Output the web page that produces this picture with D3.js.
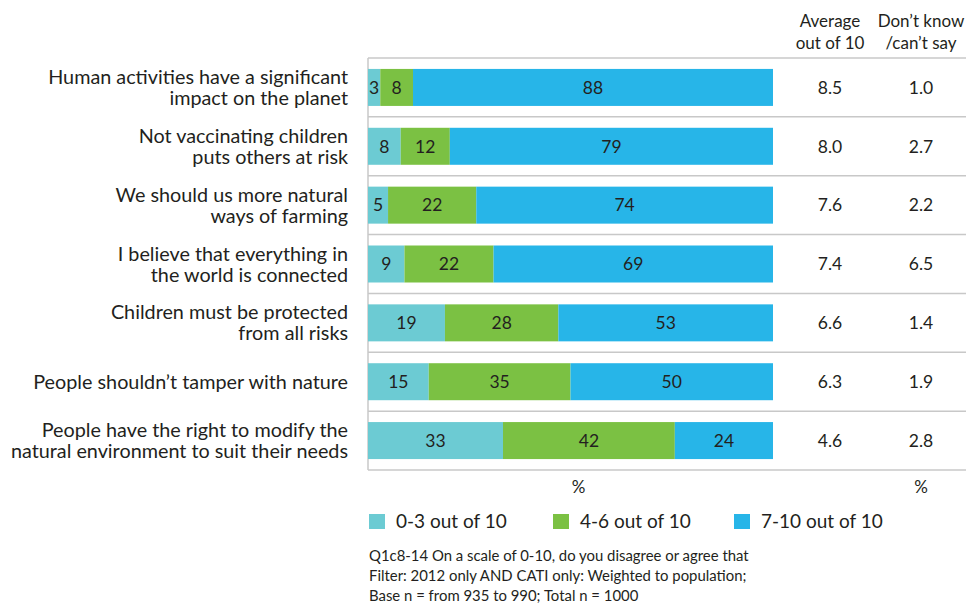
<!DOCTYPE html>
<html>
<head>
<meta charset="utf-8">
<script src="https://cdn.jsdelivr.net/npm/d3@7"></script>
<style>
  body { margin: 0; background: #fff; }
  svg text { font-family: Lato, "Noto Sans", sans-serif; fill: #231f20; }
</style>
</head>
<body>
<div id="chart"></div>
<script>
// statements, two lines each
var statements = [
	['Human activities have a significant', 'impact on the planet'],
	['Not vaccinating children', 'puts others at risk'],
	['We should us more natural', 'ways of farming'],
	['I believe that everything in', 'the world is connected'],
	['Children must be protected', 'from all risks'],
	['People shouldn\u2019t tamper with nature'],
	['People have the right to modify the', 'natural environment to suit their needs']
]
var low = [3, 8, 5, 9, 19, 15, 33]      // 0-3 out of 10
var mid = [8, 12, 22, 22, 28, 35, 42]   // 4-6 out of 10
var high = [88, 79, 74, 69, 53, 50, 24] // 7-10 out of 10
var average = ['8.5', '8.0', '7.6', '7.4', '6.6', '6.3', '4.6']
var dontKnow = ['1.0', '2.7', '2.2', '6.5', '1.4', '1.9', '2.8']
var seriesNames = ['0-3 out of 10', '4-6 out of 10', '7-10 out of 10']
var colors = ['#6ccbd3', '#7bc143', '#27b5e8']
var footnote = [
	'Q1c8-14 On a scale of 0-10, do you disagree or agree that',
	'Filter: 2012 only AND CATI only: Weighted to population;',
	'Base n = from 935 to 990; Total n = 1000'
]

var W = 966, H = 604
var svg = d3.select('#chart').append('svg')
	.attr('width', W)
	.attr('height', H)

var plotLeft = 368, barRight = 773
var plotTop = 58, plotBottom = 470
var barH = 37

// one band per statement, bars centred in it
var y = d3.scaleBand()
	.domain(d3.range(statements.length))
	.range([plotTop, plotBottom])
var rowCenter = i => y(i) + y.bandwidth() / 2

var x = d3.scaleLinear().domain([0, 100]).range([plotLeft, barRight])

// stack, each row scaled to 100%
var stackData = statements.map((s, i) => {
	let vals = [low[i], mid[i], high[i]]
	let tot = d3.sum(vals)
	let o = { i: i, raw: vals }
	vals.forEach((v, k) => o['s' + k] = v / tot * 100)
	return o
})
var stack = d3.stack().keys(['s0', 's1', 's2'])(stackData)

// separators
var sepYs = d3.range(statements.length).map(i => y(i)).concat([plotBottom])
svg.append('g').selectAll('line')
	.data(sepYs).join('line')
	.attr('x1', plotLeft).attr('x2', W)
	.attr('y1', d => d).attr('y2', d => d)
	.attr('stroke', '#c8c8c8').attr('stroke-width', 1.5)

svg.append('line')
	.attr('x1', plotLeft).attr('x2', plotLeft)
	.attr('y1', plotTop).attr('y2', plotBottom)
	.attr('stroke', '#c8c8c8').attr('stroke-width', 1.5)

var groups = svg.append('g').selectAll('g')
	.data(stack).join('g')
	.attr('fill', (d, k) => colors[k])

groups.selectAll('rect')
	.data(d => d).join('rect')
	.attr('x', d => x(d[0]))
	.attr('width', d => x(d[1]) - x(d[0]))
	.attr('y', d => rowCenter(d.data.i) - barH / 2)
	.attr('height', barH)

groups.each(function (s, k) {
	d3.select(this).selectAll('text')
		.data(s).join('text')
		.attr('x', d => (x(d[0]) + x(d[1])) / 2)
		.attr('y', d => rowCenter(d.data.i))
		.attr('dy', '0.36em')
		.attr('text-anchor', 'middle')
		.style('font-size', '17.5px')
		.text(d => d.data.raw[k])
})

// statement labels, one text per line
var lh = 21
var labelLines = []
statements.forEach((lines, i) => {
	let y0 = rowCenter(i) - (lines.length - 1) * lh / 2
	lines.forEach((l, j) => labelLines.push({ text: l, y: y0 + j * lh }))
})
svg.append('g').selectAll('text')
	.data(labelLines).join('text')
	.attr('x', 348)
	.attr('y', d => d.y)
	.attr('dy', '0.36em')
	.attr('text-anchor', 'end')
	.style('font-size', '19.8px')
	.text(d => d.text)

// right columns
var avgX = 830, dkX = 921
svg.append('g').selectAll('text')
	.data(average).join('text')
	.attr('x', avgX).attr('y', (d, i) => rowCenter(i)).attr('dy', '0.36em')
	.attr('text-anchor', 'middle').style('font-size', '17.5px')
	.text(d => d)
svg.append('g').selectAll('text')
	.data(dontKnow).join('text')
	.attr('x', dkX).attr('y', (d, i) => rowCenter(i)).attr('dy', '0.36em')
	.attr('text-anchor', 'middle').style('font-size', '17.5px')
	.text(d => d)

var headers = [[avgX, ['Average', 'out of 10']], [dkX, ['Don\u2019t know', '/can\u2019t say']]]
headers.forEach(h => {
	h[1].forEach((l, j) => {
		svg.append('text')
			.attr('x', h[0]).attr('y', 27 + j * 22)
			.attr('text-anchor', 'middle').style('font-size', '17px')
			.text(l)
	})
})

// % labels
svg.append('text').attr('x', x(52)).attr('y', 493)
	.attr('text-anchor', 'middle').style('font-size', '17px').text('%')
svg.append('text').attr('x', dkX).attr('y', 493)
	.attr('text-anchor', 'middle').style('font-size', '17px').text('%')

// legend
var legendX = [369, 553, 734]
var legend = svg.append('g').selectAll('g')
	.data(seriesNames).join('g')
	.attr('transform', (d, k) => `translate(${legendX[k]}, 514)`)
legend.append('rect')
	.attr('width', 16).attr('height', 15)
	.attr('fill', (d, k) => colors[k])
legend.append('text')
	.attr('x', 27).attr('y', 7.5).attr('dy', '0.36em')
	.style('font-size', '19px')
	.text(d => d)

// footnote
svg.append('g').selectAll('text')
	.data(footnote).join('text')
	.attr('x', 369).attr('y', (d, i) => 561 + i * 20)
	.style('font-size', '14.9px')
	.text(d => d)
</script>
</body>
</html>
